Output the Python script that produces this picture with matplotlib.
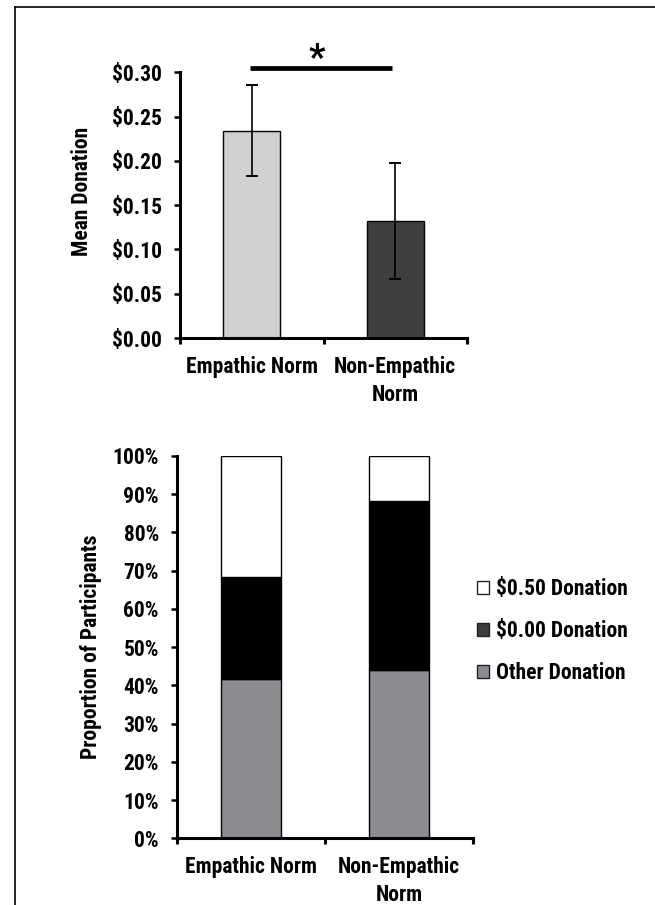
import matplotlib
matplotlib.use("Agg")
import matplotlib.pyplot as plt
from matplotlib import font_manager
from matplotlib.patches import Patch
from matplotlib.lines import Line2D
from matplotlib.ticker import FuncFormatter

# Prefer a condensed sans that ships a real bold face
_bold_families = {f.name for f in font_manager.fontManager.ttflist
                  if isinstance(f.weight, int) and f.weight >= 700
                  or f.weight in ("bold", "heavy", "black")}
_candidates = ["Roboto Condensed", "PT Sans Narrow", "Archivo Narrow",
               "IBM Plex Sans Condensed", "Fira Sans Condensed"]
_face = next((c for c in _candidates if c in _bold_families), "Liberation Sans")
plt.rcParams['font.family'] = [_face, 'Liberation Sans', 'DejaVu Sans']
plt.rcParams['font.weight'] = 'bold'

# Data
conditions = ["Empathic Norm", "Non-Empathic\nNorm"]
mean_donation = [0.234, 0.132]
donation_se = [0.0516, 0.0658]
pct_other = [41.7, 43.9]
pct_zero = [26.7, 44.4]
pct_half = [31.6, 11.7]
legend_labels = ["$0.50 Donation", "$0.00 Donation", "Other Donation"]

W, H = 655, 905
fig = plt.figure(figsize=(W / 100, H / 100), dpi=100)

FS = 15.5
SPINE_LW = 2.2


def style_axes(ax):
    for side in ("top", "right"):
        ax.spines[side].set_visible(False)
    for side in ("left", "bottom"):
        ax.spines[side].set_linewidth(SPINE_LW)
        ax.spines[side].set_color("black")
    ax.set_xlim(-0.5, 1.5)
    # category boundaries carry the tick marks, centres carry the labels
    ax.set_xticks([-0.5, 0.5, 1.5])
    ax.set_xticklabels([])
    ax.set_xticks([0, 1], minor=True)
    ax.set_xticklabels(conditions, minor=True, fontsize=FS, fontweight="bold",
                       linespacing=1.33)
    ax.tick_params(axis="x", which="major", direction="out", length=4.5,
                   width=SPINE_LW)
    ax.tick_params(axis="x", which="minor", length=0, pad=13)
    ax.tick_params(axis="y", direction="out", length=4, width=1.8,
                   labelsize=FS, pad=9)
    for lab in ax.get_yticklabels():
        lab.set_fontweight("bold")


x = [0, 1]

# Top panel: mean donation with error bars
ax1 = fig.add_axes([180 / W, 1 - 338.1 / H, 287 / W, 265.8 / H])
ax1.bar(x, mean_donation, width=0.4, color=["#cfd0d2", "#3f3f41"],
        edgecolor="black", linewidth=1.0, zorder=2)
ax1.errorbar(x, mean_donation, yerr=donation_se, fmt="none", ecolor="black",
             elinewidth=1.2, capsize=4.5, capthick=1.4, zorder=3)
ax1.set_ylim(0, 0.30)
ax1.set_yticks([0, 0.05, 0.10, 0.15, 0.20, 0.25, 0.30])
ax1.yaxis.set_major_formatter(FuncFormatter(lambda v, p: f"${v:.2f}"))
style_axes(ax1)
ax1.set_ylabel("Mean Donation", fontsize=FS, fontweight="bold", va="center",
               ha="center")
ax1.yaxis.set_label_coords(-0.34, 0.55)

# significance bracket
ax1.plot([-0.01, 0.98], [0.3045, 0.3045], color="black", lw=3.4,
         solid_capstyle="butt", clip_on=False)
ax1.text(0.455, 0.3155, "*", ha="center", va="center", fontsize=26,
         fontweight="bold", clip_on=False)

# Bottom panel: stacked proportions
ax2 = fig.add_axes([177 / W, 1 - 838.3 / H, 296 / W, 382.3 / H])
ax2.bar(x, pct_other, width=0.4, color="#8b8c90",
        edgecolor="black", linewidth=1.0)
ax2.bar(x, pct_zero, width=0.4, bottom=pct_other, color="black",
        edgecolor="black", linewidth=1.0)
bottom_half = [a + b for a, b in zip(pct_other, pct_zero)]
ax2.bar(x, pct_half, width=0.4, bottom=bottom_half, color="white",
        edgecolor="black", linewidth=1.0)
ax2.set_ylim(0, 100)
ax2.set_yticks(range(0, 101, 10))
ax2.yaxis.set_major_formatter(FuncFormatter(lambda v, p: f"{int(v)}%"))
style_axes(ax2)
ax2.set_ylabel("Proportion of Participants", fontsize=FS, fontweight="bold",
               va="center", ha="center")
ax2.yaxis.set_label_coords(-0.29, 0.5)

handles = [
    Patch(facecolor="white", edgecolor="#222222", linewidth=1.0),
    Patch(facecolor="#3d3d3f", edgecolor="#222222", linewidth=1.0),
    Patch(facecolor="#8b8c90", edgecolor="#222222", linewidth=1.0),
]
fig.legend(handles, legend_labels, loc="center left",
           bbox_to_anchor=(476.5 / W, 1 - 631 / H), frameon=False,
           prop={"size": FS, "weight": "bold"}, handlelength=0.6,
           handleheight=0.6, handletextpad=0.3, labelspacing=0.93,
           borderpad=0, borderaxespad=0)

# outer frame (left and top edges)
fig.add_artist(Line2D([14.5 / W, 14.5 / W], [0, 1 - 7 / H], color="black",
                      lw=1.2, transform=fig.transFigure))
fig.add_artist(Line2D([14.5 / W, 1], [1 - 7 / H, 1 - 7 / H], color="black",
                      lw=1.2, transform=fig.transFigure))

fig.savefig("out.png", dpi=100)
